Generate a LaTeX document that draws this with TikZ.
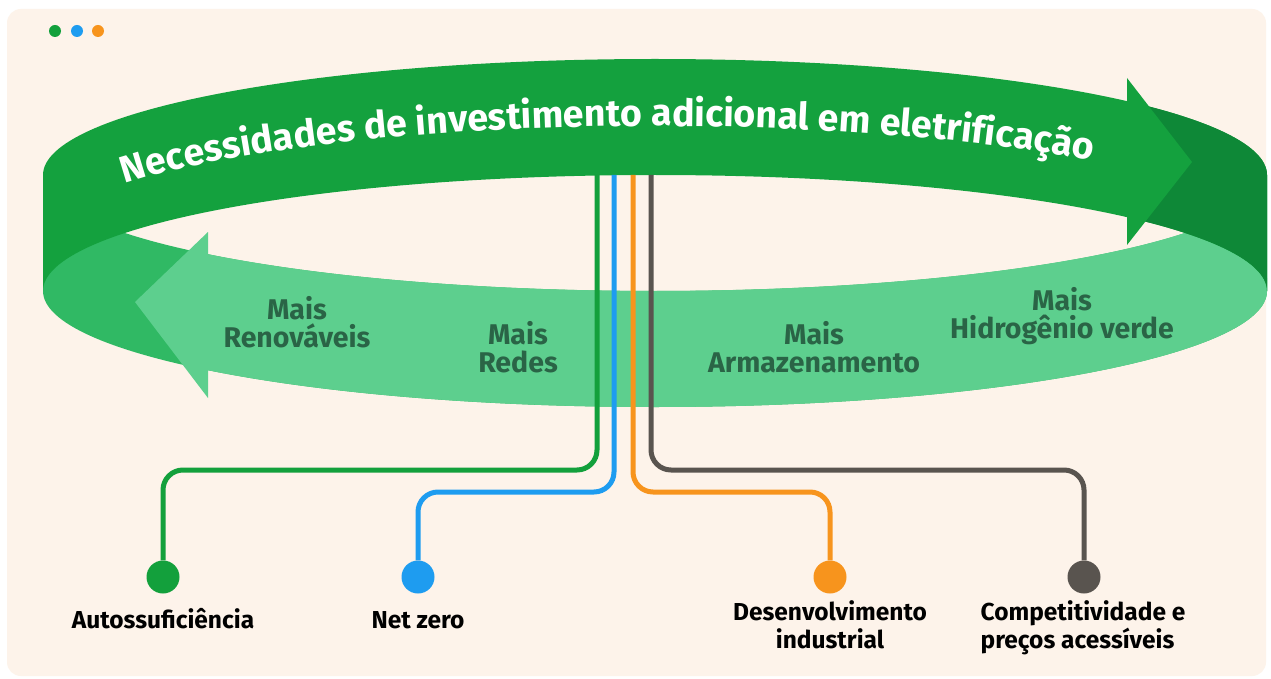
\documentclass[tikz,border=0pt]{standalone}
\usepackage{fontspec}
\setmainfont{Fira Sans}
\usepackage{tikz}
\usetikzlibrary{positioning,calc}
\usetikzlibrary{decorations.text}
\definecolor{panel}{RGB}{253,243,234}
\definecolor{ringdark}{RGB}{20,161,62}
\definecolor{ringdeep}{RGB}{14,136,55}
\definecolor{ringmid}{RGB}{48,185,100}
\definecolor{ringlight}{RGB}{93,207,142}
\definecolor{bandtext}{RGB}{42,100,70}
\definecolor{lgreen}{RGB}{19,160,60}
\definecolor{lblue}{RGB}{30,156,240}
\definecolor{lorange}{RGB}{247,148,29}
\definecolor{lgray}{RGB}{89,84,79}
\newcommand{\rx}{612}
\newcommand{\ry}{116}
\newcommand{\titlefont}{\bfseries\fontsize{37.5}{37.5}\selectfont}

\begin{document}
\begin{tikzpicture}[x=1pt,y=-1pt,
    wire/.style={line width=5pt,rounded corners=20pt},
    dot/.style={circle,inner sep=0pt,minimum size=33pt},
    goal/.style={font=\bfseries\fontsize{24.5}{28}\selectfont,text=black,align=center,inner sep=0pt},
    need/.style={font=\bfseries\fontsize{28.5}{28}\selectfont,text=bandtext,align=center,inner sep=0pt}]
  \useasboundingbox (0,0) rectangle (1271,679);
  \fill[white] (0,0) rectangle (1271,679);
  \fill[panel,rounded corners=14pt] (7,9) rectangle (1266,676);
  \foreach \c/\x in {lgreen/55,lblue/77,lorange/98}
    \fill[\c] (\x,31) circle (6);

  \fill[ringmid] (43,175) arc[start angle=180,end angle=0,x radius=\rx,y radius=\ry]
    -- (1267,291) arc[start angle=0,end angle=180,x radius=\rx,y radius=\ry] -- cycle;
  \fill[ringlight] (135,302) -- (208,232) -- (208,254.2)
    arc[start angle=136.9,end angle=0,x radius=\rx,y radius=\ry]
    -- (1267,291) arc[start angle=0,end angle=136.9,x radius=\rx,y radius=\ry]
    -- (208,398) -- cycle;
  \fill[ringdark] (43,175) arc[start angle=180,end angle=360,x radius=\rx,y radius=\ry]
    -- (1267,291) arc[start angle=0,end angle=-180,x radius=\rx,y radius=\ry] -- cycle;
  \begin{scope}
    \clip (1127,0) rectangle (1271,679);
    \fill[ringdeep] (43,175) arc[start angle=180,end angle=360,x radius=\rx,y radius=\ry]
      -- (1267,291) arc[start angle=0,end angle=-180,x radius=\rx,y radius=\ry] -- cycle;
  \end{scope}
  \fill[ringdark] (1127,78) -- (1192,162) -- (1127,245) -- cycle;

  \path[decorate,decoration={text along path,text align=left,text color=white,
      text={|\titlefont|Necessidades de investimento adicional em eletrificação}}]
    (125,184) arc[start angle=210,end angle=350,x radius=\rx,y radius=\ry];

  \node[need,anchor=base] (ren) at (297,347) {Mais\\Renováveis};
  \node[need,anchor=base] (red) at (518,372) {Mais\\Redes};
  \node[need,anchor=base] (arm) at (814,372) {Mais\\Armazenamento};
  \node[need,anchor=base] (hid) at (1062,338) {Mais\\Hidrogênio verde};

  \coordinate (gtop) at (597,175);
  \coordinate (btop) at (614,175);
  \coordinate (otop) at (633,175);
  \coordinate (ktop) at (651,175);
  \node[dot,fill=lgreen] (gdot) at (163,577) {};
  \node[dot,fill=lblue] (bdot) at (418,577) {};
  \node[dot,fill=lorange] (odot) at (830,577) {};
  \node[dot,fill=lgray] (kdot) at (1084,577) {};
  \draw[wire,lgreen] (gtop) |- (163,470) -- (gdot);
  \draw[wire,lblue] (btop) |- (418,492) -- (bdot);
  \draw[wire,lorange] (otop) |- (830,492) -- (odot);
  \draw[wire,lgray] (ktop) |- (1084,470) -- (kdot);

  \node[goal,anchor=base] (gtxt) at (163,628) {Autossuficiência};
  \node[goal,anchor=base] (btxt) at (418,628) {Net zero};
  \node[goal,anchor=base] (otxt) at (830,648) {Desenvolvimento\\industrial};
  \node[goal,anchor=base,align=left] (ktxt) at (1083,648) {Competitividade e\\preços acessíveis};
\end{tikzpicture}
\end{document}
